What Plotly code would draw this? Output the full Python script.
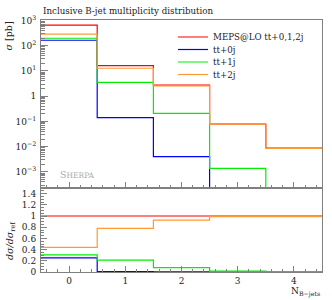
import plotly.graph_objects as go
import numpy as np

# Bin edges for N_B-jets (bins centred on 0..4)
bin_edges = [-0.5, 0.5, 1.5, 2.5, 3.5, 4.5]
series_names = ["MEPS@LO tt+0,1,2j", "tt+0j", "tt+1j", "tt+2j"]
series_colors = ["#ff0000", "#0000ff", "#00ee00", "#ff9933"]

# cross sections [pb] per bin (0 = empty bin)
meps = [650.0, 16.4, 2.75, 0.079, 0.0087]
tt0j = [165.0, 0.14, 0.004, 0.0, 0.0]
tt1j = [198.0, 3.5, 0.21, 0.00137, 0.0]
tt2j = [286.0, 12.8, 2.55, 0.078, 0.0086]

ytick_vals = [1e-3, 1e-2, 1e-1, 1, 10, 100, 1000]
ytick_text = ["10<sup>−3</sup>", "10<sup>−2</sup>", "10<sup>−1</sup>", "1",
              "10<sup>1</sup>", "10<sup>2</sup>", "10<sup>3</sup>"]
rtick_vals = [0, 0.2, 0.4, 0.6, 0.8, 1, 1.2, 1.4]
rtick_text = ["0", "0.2", "0.4", "0.6", "0.8", "1", "1.2", "1.4"]
xtick_vals = [0, 1, 2, 3, 4]

FONT = "DejaVu Serif"
FRAME = "#808080"
TXT = "#222222"
TINY = 1e-12  # empty bins drawn at the floor of the log axis

# pixel geometry of the plot frame
W, H = 332, 300
ML, MR, MT, MB = 41, 10, 20, 28
PW, PH = W - ML - MR, H - MT - MB


def px_x(p):
    return (p - ML) / PW


def px_y(p):
    return (H - MB - p) / PH


def step_y(vals, floor=None):
    v = [(floor if (floor is not None and x <= 0) else x) for x in vals]
    return v + [v[-1]]


fig = go.Figure()
all_series = [meps, tt0j, tt1j, tt2j]
legend_ids = ["legend", "legend2", "legend3", "legend4"]
for name, col, vals, lg in zip(series_names, series_colors, all_series, legend_ids):
    fig.add_trace(go.Scatter(
        x=bin_edges, y=step_y(vals, TINY), mode="lines", line_shape="hv",
        line=dict(color=col, width=1.2), name=name, xaxis="x", yaxis="y",
        showlegend=True, legend=lg))

ref = np.array(meps)
for name, col, vals in zip(series_names, series_colors, all_series):
    ratio = list(np.array(vals) / ref)
    fig.add_trace(go.Scatter(
        x=bin_edges, y=ratio + [ratio[-1]], mode="lines", line_shape="hv",
        line=dict(color=col, width=1.2), name=name, xaxis="x2", yaxis="y2",
        showlegend=False))

# minor tick positions for log axis
minor_log = [k * 10.0 ** e for e in range(-4, 3) for k in range(2, 10)]

common_axis = dict(showline=True, linecolor=FRAME, linewidth=1, mirror=True,
                   ticks="inside", tickcolor=FRAME, showgrid=False, zeroline=False,
                   tickfont=dict(family=FONT, size=9, color=TXT))

legend_rows = [37, 49.5, 62, 74.5]
legend_layout = {}
for lg, row in zip(legend_ids, legend_rows):
    legend_layout[lg] = dict(x=px_x(173), y=px_y(row), xanchor="left", yanchor="middle",
                             bgcolor="rgba(0,0,0,0)", borderwidth=0,
                             font=dict(family=FONT, size=8.7, color=TXT), itemwidth=30)

fig.update_layout(
    width=W, height=H,
    margin=dict(l=ML, r=MR, t=MT, b=MB),
    paper_bgcolor="white", plot_bgcolor="white",
    font=dict(family=FONT, size=9, color=TXT),
    hovermode=False,
    xaxis=dict(domain=[0, 1], range=[-0.5, 4.5], anchor="y", tickvals=xtick_vals,
               showticklabels=False, ticklen=6,
               minor=dict(ticks="inside", dtick=0.2, tick0=0, ticklen=3, tickcolor=FRAME),
               **common_axis),
    yaxis=dict(domain=[1 / 3, 1], type="log", range=[-3.64, 3.02], anchor="x",
               tickvals=ytick_vals, ticktext=ytick_text, ticklen=7, ticklabelstandoff=2,
               minor=dict(ticks="inside", tickvals=minor_log, ticklen=4, tickcolor=FRAME),
               **common_axis),
    xaxis2=dict(domain=[0, 1], range=[-0.5, 4.5], anchor="y2", matches="x",
                tickvals=xtick_vals, ticklen=6,
                minor=dict(ticks="inside", dtick=0.2, tick0=0, ticklen=3, tickcolor=FRAME),
                **common_axis),
    yaxis2=dict(domain=[0, 1 / 3], range=[0, 1.5], anchor="x2",
                tickvals=rtick_vals, ticktext=rtick_text, ticklen=6, ticklabelstandoff=2,
                minor=dict(ticks="inside", dtick=0.05, tick0=0, ticklen=3, tickcolor=FRAME),
                **common_axis),
    showlegend=True,
    **legend_layout,
)

fig.add_annotation(text="Inclusive B-jet multiplicity distribution", xref="paper", yref="paper",
                   x=0, y=1, yshift=2, xanchor="left", yanchor="bottom", showarrow=False,
                   font=dict(family=FONT, size=8.7, color=TXT))
fig.add_annotation(text="<i>σ</i> [pb]", xref="paper", yref="paper", x=0, xshift=-33,
                   y=1, xanchor="center", yanchor="top", textangle=-90, showarrow=False,
                   font=dict(family=FONT, size=9.5, color=TXT))
fig.add_annotation(text="<i>dσ/dσ</i><sub>ref</sub>", xref="paper", yref="paper", x=0, xshift=-31,
                   y=px_y(241), xanchor="center", yanchor="middle", textangle=-90, showarrow=False,
                   font=dict(family=FONT, size=9.5, color=TXT))
fig.add_annotation(text="N<sub>B−jets</sub>", xref="paper", yref="paper", x=1, y=0,
                   yshift=-12, xanchor="right", yanchor="top", showarrow=False,
                   font=dict(family=FONT, size=9, color=TXT))
fig.add_annotation(text="S<span style='font-size:7.5px'>HERPA</span>", xref="paper", yref="paper",
                   x=px_x(58), y=px_y(174.5), xanchor="left", yanchor="middle", showarrow=False,
                   font=dict(family=FONT, size=9.5, color="#aaaaaa"))

fig.write_html("out.html", config={"displayModeBar": False, "staticPlot": True},
               post_script="document.body.style.margin='0';")
